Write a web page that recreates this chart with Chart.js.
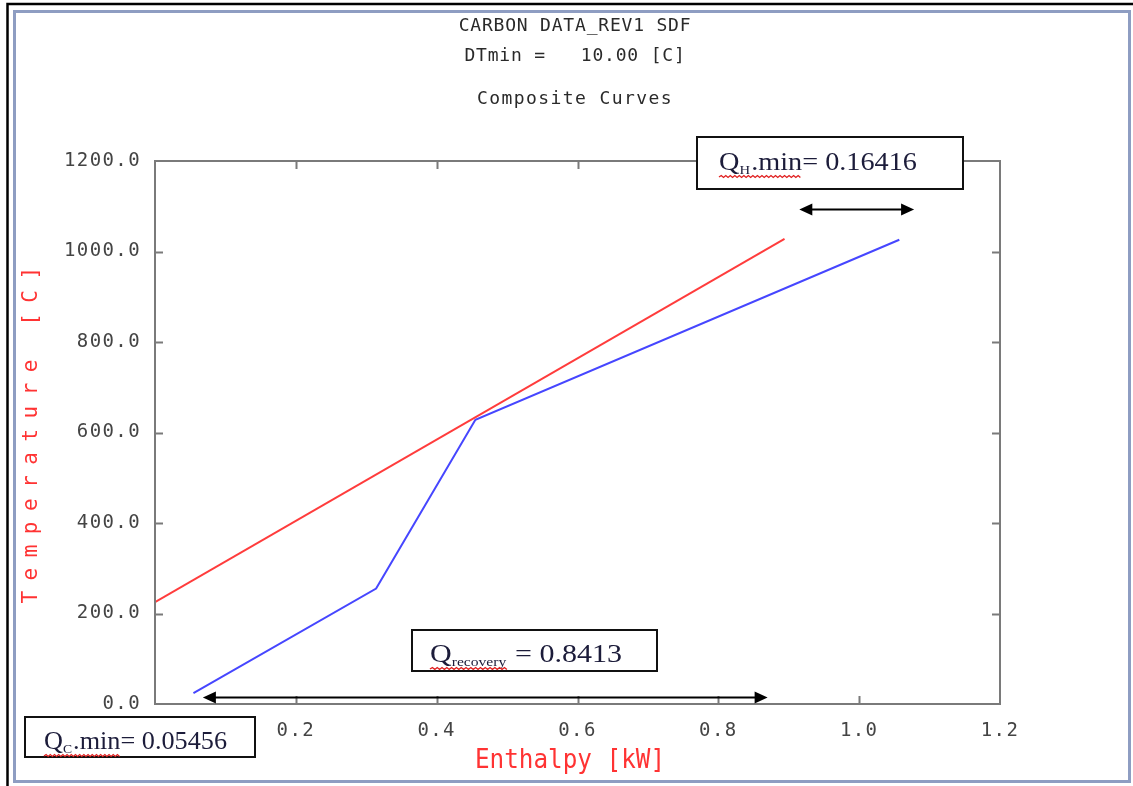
<!DOCTYPE html>
<html>
<head>
<meta charset="utf-8">
<script src="https://cdn.jsdelivr.net/npm/chart.js@4.4.1/dist/chart.umd.min.js"></script>
<style>
  html, body { margin: 0; padding: 0; background: #fff; }
  #wrap { width: 1133px; height: 786px; }
</style>
</head>
<body>
<div id="wrap"><canvas id="chart" width="1133" height="786"></canvas></div>
<script>
// hot and cold composite curves (enthalpy kW, temperature C)
const hotQ = [0, 0.894];
const hotT = [225, 1028];
const coldQ = [0.0546, 0.314, 0.455, 1.057];
const coldT = [24, 255, 628, 1026];

const xTicks = [0, 0.2, 0.4, 0.6, 0.8, 1.0, 1.2];
const yTicks = [0, 200, 400, 600, 800, 1000, 1200];

const titleLines = ["CARBON DATA_REV1 SDF", "DTmin =   10.00 [C]", "Composite Curves"];
const xTitle = "Enthalpy [kW]";
const yTitle = "Temperature [C]";

// double arrows in data units: [q from, q to, T]
const arrows = [
  [0.915, 1.078, 1094],
  [0.068, 0.870, 15.5],
];

// text boxes (pixels): box x,y,w,h; text x, baseline, width
const notes = [
  { box: [697, 137, 266, 52], x: 719, y: 170, w: 198, q: "Q", sub: "H", word: ".min", tail: "= 0.16416" },
  { box: [412, 630, 245, 41], x: 430, y: 662, w: 192, q: "Q", sub: "recovery", word: "", tail: " = 0.8413" },
  { box: [25, 717, 230, 40], x: 44, y: 749, w: 183, q: "Q", sub: "C", word: ".min", tail: "= 0.05456" },
];

const AXIS = "#7a7a7a";
const RED = "#ff3333";
const TXT = "#1c1c3a";

function drawArrow(ctx, x1, x2, y) {
  const h = 13, w = 6;
  ctx.beginPath();
  ctx.moveTo(x1 + h - 2, y);
  ctx.lineTo(x2 - h + 2, y);
  ctx.stroke();
  ctx.beginPath();
  ctx.moveTo(x1, y); ctx.lineTo(x1 + h, y - w); ctx.lineTo(x1 + h, y + w); ctx.closePath();
  ctx.moveTo(x2, y); ctx.lineTo(x2 - h, y - w); ctx.lineTo(x2 - h, y + w); ctx.closePath();
  ctx.fill();
}

function wavy(ctx, x1, x2, y) {
  ctx.beginPath();
  let up = true;
  ctx.moveTo(x1, y);
  for (let x = x1 + 2; x <= x2; x += 2) {
    ctx.lineTo(x, up ? y - 1.5 : y + 0.5);
    up = !up;
  }
  ctx.stroke();
}

function drawNote(ctx, n) {
  const [bx, by, bw, bh] = n.box;
  ctx.fillStyle = "#fff";
  ctx.fillRect(bx, by, bw, bh);
  ctx.strokeStyle = "#111";
  ctx.lineWidth = 2;
  ctx.strokeRect(bx, by, bw, bh);

  const big = '25px "Liberation Serif"', small = '13px "Liberation Serif"';
  ctx.font = big;
  const wQ = ctx.measureText(n.q).width;
  const wW = ctx.measureText(n.word).width;
  const wT = ctx.measureText(n.tail).width;
  ctx.font = small;
  const wS = ctx.measureText(n.sub).width + 1;
  const s = n.w / (wQ + wS + wW + wT);

  ctx.save();
  ctx.translate(n.x, n.y);
  ctx.scale(s, 1);
  ctx.fillStyle = TXT;
  ctx.textAlign = "left";
  ctx.textBaseline = "alphabetic";
  ctx.font = big;
  ctx.fillText(n.q, 0, 0);
  ctx.fillText(n.word + n.tail, wQ + wS, 0);
  ctx.font = small;
  ctx.fillText(n.sub, wQ, 4);
  ctx.strokeStyle = "#e02020";
  ctx.lineWidth = 1.2;
  wavy(ctx, 0, wQ + wS + wW, 7);
  ctx.restore();
}

const decor = {
  id: "decor",
  beforeDraw(chart) {
    const ctx = chart.ctx;
    ctx.save();
    ctx.fillStyle = "#fff";
    ctx.fillRect(0, 0, chart.width, chart.height);
    ctx.strokeStyle = "#000";
    ctx.lineWidth = 2.5;
    ctx.beginPath();
    ctx.moveTo(7.5, chart.height);
    ctx.lineTo(7.5, 4);
    ctx.lineTo(chart.width, 4);
    ctx.stroke();
    ctx.strokeStyle = "#8e9dc2";
    ctx.lineWidth = 3;
    ctx.strokeRect(14.5, 11.5, 1115, 770);
    ctx.restore();
    // spaced-out plotter style tick labels
    ctx.letterSpacing = "1.4px";
  },
  afterDraw(chart) {
    const ctx = chart.ctx;
    const { left, right, top, bottom } = chart.chartArea;
    const xs = chart.scales.x, ys = chart.scales.y;
    ctx.letterSpacing = "0px";
    ctx.save();

    // plot frame with inward ticks
    ctx.strokeStyle = AXIS;
    ctx.lineWidth = 2;
    ctx.strokeRect(left, top, right - left, bottom - top);
    ctx.beginPath();
    xTicks.slice(1, -1).forEach(v => {
      const px = Math.round(xs.getPixelForValue(v)) + 0.5;
      ctx.moveTo(px, bottom); ctx.lineTo(px, bottom - 8);
      ctx.moveTo(px, top); ctx.lineTo(px, top + 8);
    });
    yTicks.slice(1, -1).forEach(v => {
      const py = Math.round(ys.getPixelForValue(v)) + 0.5;
      ctx.moveTo(left, py); ctx.lineTo(left + 8, py);
      ctx.moveTo(right, py); ctx.lineTo(right - 8, py);
    });
    ctx.stroke();

    // titles
    ctx.fillStyle = "#2a2a2a";
    ctx.textAlign = "center";
    ctx.textBaseline = "middle";
    ctx.letterSpacing = "0.8px";
    ctx.font = '18px "DejaVu Sans Mono"';
    ctx.fillText(titleLines[0], 575, 26);
    ctx.fillText(titleLines[1], 575, 56);
    ctx.letterSpacing = "1.4px";
    ctx.font = '18px "DejaVu Sans Mono"';
    ctx.fillText(titleLines[2], 575, 99);

    // axis titles
    ctx.fillStyle = RED;
    ctx.save();
    ctx.translate(32, 435);
    ctx.rotate(-Math.PI / 2);
    ctx.letterSpacing = "10.5px";
    ctx.font = '21px "DejaVu Sans Mono"';
    ctx.fillText(yTitle, 5, 0);
    ctx.restore();
    ctx.save();
    ctx.translate(570, 761);
    ctx.scale(0.9, 1);
    ctx.letterSpacing = "0px";
    ctx.font = '27px "DejaVu Sans Mono"';
    ctx.fillText(xTitle, 0, 0);
    ctx.restore();
    ctx.letterSpacing = "0px";

    // arrows
    ctx.strokeStyle = "#000";
    ctx.fillStyle = "#000";
    ctx.lineWidth = 2;
    arrows.forEach(([q1, q2, t]) => {
      drawArrow(ctx, xs.getPixelForValue(q1), xs.getPixelForValue(q2), Math.round(ys.getPixelForValue(t)) + 0.5);
    });

    notes.forEach(n => drawNote(ctx, n));
    ctx.restore();
  },
};

const tickFont = { family: "DejaVu Sans Mono", size: 19 };

new Chart(document.getElementById("chart"), {
  type: "line",
  data: {
    datasets: [
      {
        label: "Hot",
        data: hotQ.map((q, i) => ({ x: q, y: hotT[i] })),
        borderColor: "#ff3c3c",
        borderWidth: 2,
        pointRadius: 0,
      },
      {
        label: "Cold",
        data: coldQ.map((q, i) => ({ x: q, y: coldT[i] })),
        borderColor: "#4646ff",
        borderWidth: 2,
        pointRadius: 0,
      },
    ],
  },
  options: {
    responsive: false,
    animation: false,
    layout: { padding: { top: 161, right: 133, left: 0, bottom: 0 } },
    plugins: { legend: { display: false }, title: { display: false }, tooltip: { enabled: false } },
    scales: {
      x: {
        type: "linear",
        min: 0,
        max: 1.2,
        afterBuildTicks: s => { s.ticks = xTicks.map(v => ({ value: v })); },
        afterFit: s => { s.height = 82; },
        grid: { display: false, drawTicks: false },
        border: { display: false },
        ticks: { font: tickFont, color: "#444", padding: 16, maxRotation: 0, callback: v => v.toFixed(1) },
      },
      y: {
        type: "linear",
        min: 0,
        max: 1200,
        afterBuildTicks: s => { s.ticks = yTicks.map(v => ({ value: v })); },
        afterFit: s => { s.width = 155; },
        grid: { display: false, drawTicks: false },
        border: { display: false },
        ticks: { font: tickFont, color: "#444", padding: 14, callback: v => v.toFixed(1) },
      },
    },
  },
  plugins: [decor],
});
</script>
</body>
</html>
